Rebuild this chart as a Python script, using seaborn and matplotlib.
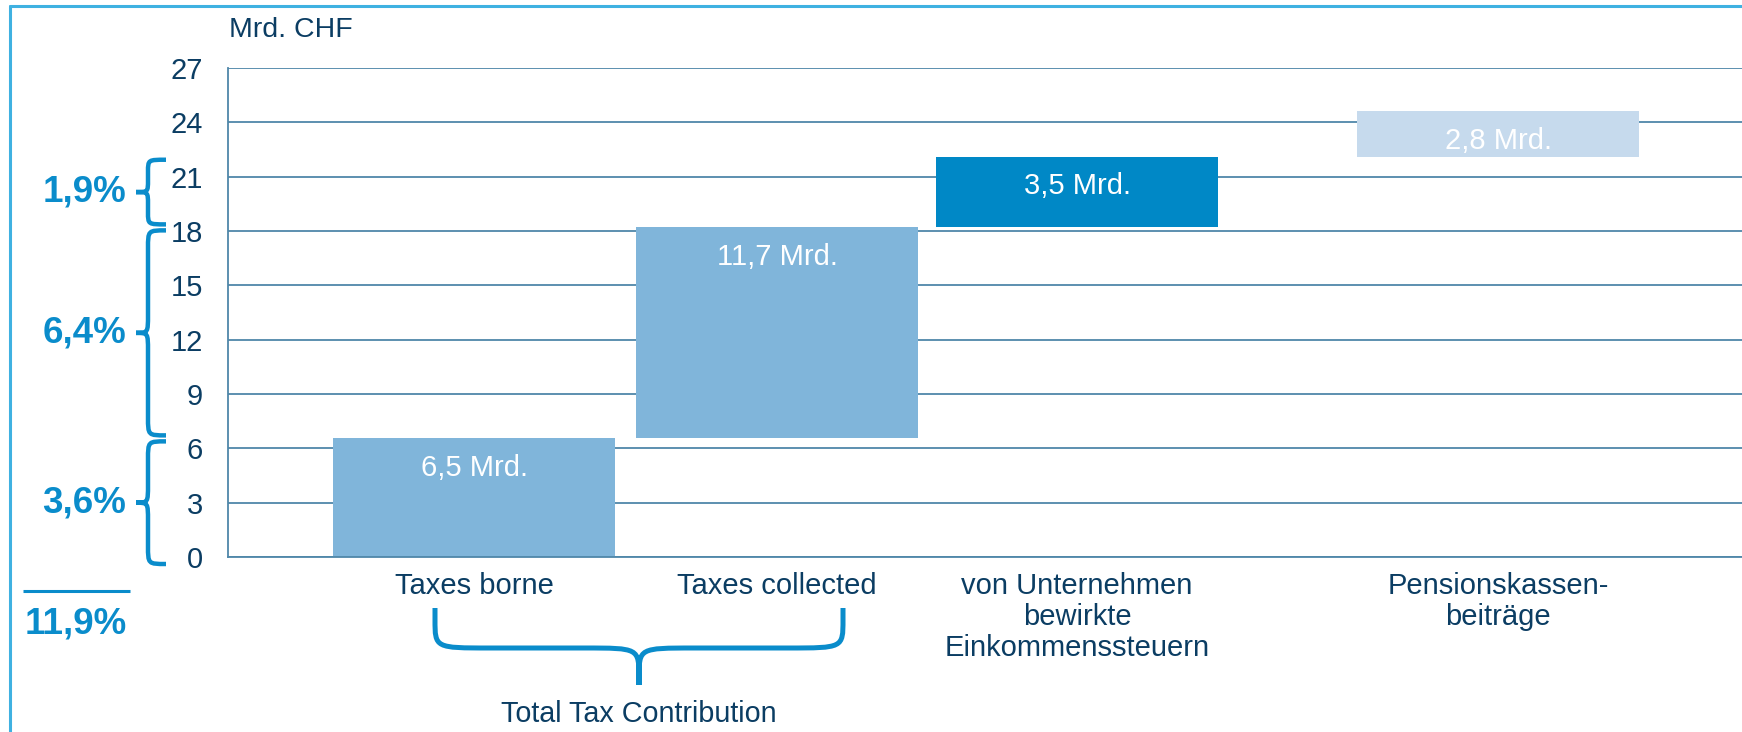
import numpy as np
import pandas as pd
import matplotlib.pyplot as plt
import seaborn as sns
from matplotlib.path import Path
from matplotlib.patches import PathPatch
from matplotlib.lines import Line2D

# Daten
categories = ["Taxes borne", "Taxes collected",
              "von Unternehmen\nbewirkte\nEinkommenssteuern",
              "Pensionskassen-\nbeiträge"]
bar_bottom = [0.0, 6.55, 18.2, 22.1]
bar_top = [6.55, 18.2, 22.1, 24.6]
bar_labels = ["6,5 Mrd.", "11,7 Mrd.", "3,5 Mrd.", "2,8 Mrd."]
share_labels = ["3,6%", "6,4%", "1,9%"]  # gehört zu Balken 1..3
total_label = "11,9%"
y_ticks = [0, 3, 6, 9, 12, 15, 18, 21, 24, 27]
unit_label = "Mrd. CHF"
group_label = "Total Tax Contribution"

# Layout
W, H = 1742, 732
bar_pos = [474, 777, 1077, 1498]
bar_colors = ["#80b5da", "#80b5da", "#0088c6", "#c6daed"]
NAVY = "#0b3d63"
BLUE = "#0a8ccb"
GRID = "#4f87a9"

sns.set_theme(style="white")
plt.rcParams['font.family'] = ['Liberation Sans', 'DejaVu Sans']

fig = plt.figure(figsize=(W / 100, H / 100), dpi=100)
ax = fig.add_axes([228 / W, 1 - 557 / H, 1 - 228 / W, (557 - 68) / H])

df = pd.DataFrame({
    "cat": categories,
    "pos": bar_pos,
    "height": np.array(bar_top) - np.array(bar_bottom),
    "bottom": bar_bottom,
    "top": bar_top,
    "label": bar_labels,
})

sns.barplot(data=df, x="pos", y="height", hue="cat", palette=bar_colors,
            native_scale=True, dodge=False, legend=False, errorbar=None,
            saturation=1, width=282 / 300, linewidth=0, ax=ax, zorder=2)

# Wasserfall: Balken auf ihre Startwerte schieben
for p in ax.patches:
    cx = p.get_x() + p.get_width() / 2
    i = int(np.argmin(np.abs(df["pos"].values - cx)))
    p.set_y(df["bottom"].iloc[i])

for _, row in df.iterrows():
    ax.annotate(row["label"], (row["pos"], row["top"]), xytext=(0, -21),
                textcoords="offset points", ha="center", va="center",
                color="white", fontsize=21, zorder=3)

ax.set_xlim(228, W)
ax.set_ylim(0, 27)
ax.set_yticks(y_ticks)
ax.set_xticks(bar_pos)
ax.set_xticklabels(categories, linespacing=1.12)
ax.set_xlabel("")
ax.set_ylabel("")
ax.yaxis.grid(True, color=GRID, lw=1.3)
ax.set_axisbelow(True)
for side in ["top", "right"]:
    ax.spines[side].set_visible(False)
for side in ["left", "bottom"]:
    ax.spines[side].set_color(GRID)
    ax.spines[side].set_linewidth(1.3)
ax.tick_params(axis="y", length=0, pad=18, labelsize=21, labelcolor=NAVY)
ax.tick_params(axis="x", length=0, pad=11, labelsize=21, labelcolor=NAVY)

# Overlay in Pixelkoordinaten für Klammern und Texte
ov = fig.add_axes([0, 0, 1, 1], zorder=5)
ov.set_xlim(0, W)
ov.set_ylim(H, 0)
ov.axis("off")


def brace(p0, p1, v_dir, s, t, r, c, r2, c2, lw):
    p0 = np.array(p0, float)
    p1 = np.array(p1, float)
    L = np.linalg.norm(p1 - p0)
    eu = (p1 - p0) / L
    ev = np.array(v_dir, float)
    m = L / 2

    def P(u, v):
        return p0 + u * eu + v * ev

    verts, codes = [], []
    for sign, start in [(1, 0.0), (-1, L)]:
        u = lambda d: start + sign * d
        verts += [P(u(0), 0), P(u(0), s - c),
                  P(u(0), s), P(u(0), s), P(u(r), s),
                  P(u(m - r2), s),
                  P(m, s), P(m, s), P(m, s + c2),
                  P(m, t)]
        codes += [Path.MOVETO, Path.LINETO,
                  Path.CURVE4, Path.CURVE4, Path.CURVE4,
                  Path.LINETO,
                  Path.CURVE4, Path.CURVE4, Path.CURVE4,
                  Path.LINETO]
    ov.add_patch(PathPatch(Path(verts, codes), fill=False, edgecolor=BLUE,
                           lw=lw, capstyle="butt", joinstyle="round"))


def to_px(v):
    return H - ax.transData.transform((bar_pos[0], v))[1]


# senkrechte Klammern mit Prozentanteilen
for i, lab in enumerate(share_labels):
    y_top = to_px(bar_top[i]) + 3
    y_bot = to_px(bar_bottom[i]) - 3
    if i == 0:
        y_bot += 10
    rr = 12 if (y_bot - y_top) < 90 else 18
    brace((166, y_top), (166, y_bot), (-1, 0), s=18, t=30, r=rr, c=18,
          r2=rr, c2=12, lw=3.2)
    ov.text(126, (y_top + y_bot) / 2, lab, ha="right", va="center",
            fontsize=26.5, fontweight="bold", color=BLUE)

ov.plot([23, 130], [591, 591], color=BLUE, lw=2.2, solid_capstyle="butt")
ov.text(127, 624, total_label, ha="right", va="center", fontsize=26.5,
        fontweight="bold", color=BLUE)

# waagrechte Klammer unter Taxes borne / collected
brace((435, 608), (843, 608), (0, 1), s=40, t=77, r=55, c=28, r2=55,
      c2=30, lw=3.6)
ov.text(639, 714, group_label, ha="center", va="center", fontsize=20.7,
        color=NAVY)

ov.text(229, 30, unit_label, ha="left", va="center", fontsize=20.5,
        color=NAVY)

# Rahmen oben und links
fig.add_artist(Line2D([10 / W, 10 / W], [0, 1 - 6 / H], color="#3fb1e1",
                      lw=2.2, transform=fig.transFigure))
fig.add_artist(Line2D([10 / W, 1], [1 - 6 / H, 1 - 6 / H], color="#3fb1e1",
                      lw=2.2, transform=fig.transFigure))

plt.savefig("out.png", dpi=100)
plt.close()
